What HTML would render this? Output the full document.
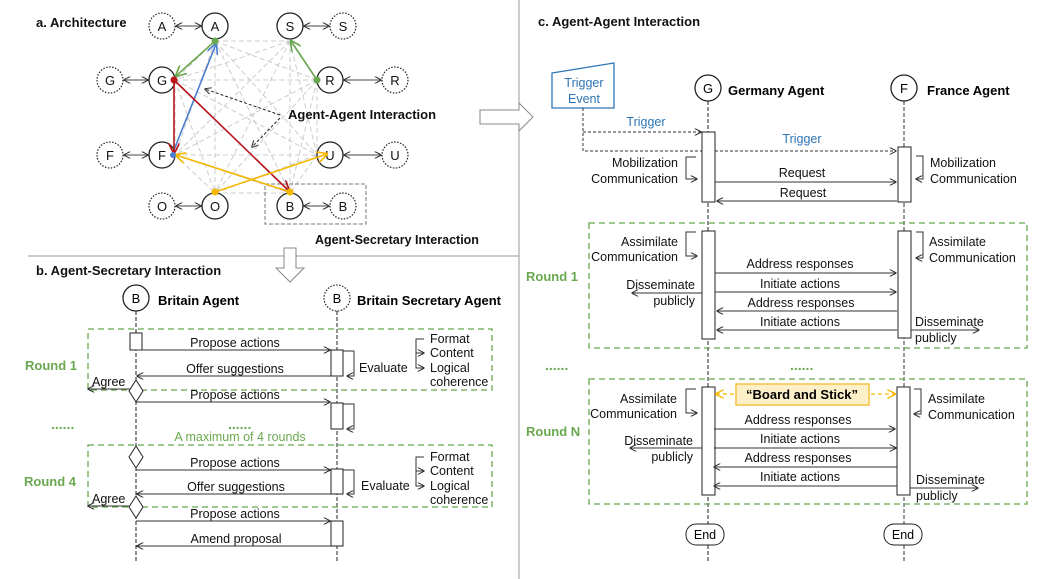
<!DOCTYPE html>
<html><head><meta charset="utf-8"><style>
html,body{margin:0;padding:0;background:#fff;}
svg{display:block;font-family:"Liberation Sans",Arial,sans-serif;}
</style></head><body>
<svg width="1051" height="579" viewBox="0 0 1051 579" xmlns="http://www.w3.org/2000/svg">
<defs>
<marker id="ar" viewBox="0 0 10 10" refX="9" refY="5" markerWidth="7" markerHeight="7" orient="auto-start-reverse"><path d="M0,0 L10,5 L0,10" fill="none" stroke="#333" stroke-width="1.5"/></marker>
<marker id="arG" viewBox="0 0 10 10" refX="9" refY="5" markerWidth="7" markerHeight="7" orient="auto"><path d="M0,0 L10,5 L0,10" fill="none" stroke="#6aa84f" stroke-width="1.5"/></marker>
<marker id="arB" viewBox="0 0 10 10" refX="9" refY="5" markerWidth="7" markerHeight="7" orient="auto"><path d="M0,0 L10,5 L0,10" fill="none" stroke="#4a7fd0" stroke-width="1.5"/></marker>
<marker id="arR" viewBox="0 0 10 10" refX="9" refY="5" markerWidth="7" markerHeight="7" orient="auto"><path d="M0,0 L10,5 L0,10" fill="none" stroke="#b8141a" stroke-width="1.5"/></marker>
<marker id="arY" viewBox="0 0 10 10" refX="9" refY="5" markerWidth="7" markerHeight="7" orient="auto"><path d="M0,0 L10,5 L0,10" fill="none" stroke="#f5b800" stroke-width="1.5"/></marker>
</defs>

<!-- dividers -->
<line x1="519" y1="0" x2="519" y2="579" stroke="#999" stroke-width="1"/>
<line x1="28" y1="256" x2="519" y2="256" stroke="#999" stroke-width="1"/>
<path d="M284,248 H296 V268 H304 L290,282 L276,268 H284 Z" fill="#fff" stroke="#888"/>
<path d="M480,110 H519 V103 L533,117 L519,131 V124 H480 Z" fill="#fff" stroke="#888"/>

<!-- a. Architecture -->
<text x="36" y="27" font-size="13" font-weight="bold" fill="#111">a. Architecture</text>
<g stroke="#ccc" stroke-width="1" stroke-dasharray="5,3">
<line x1="215" y1="41" x2="290" y2="41"/><line x1="215" y1="41" x2="175" y2="80"/><line x1="215" y1="41" x2="317" y2="80"/><line x1="215" y1="41" x2="175" y2="155"/><line x1="215" y1="41" x2="317" y2="155"/><line x1="215" y1="41" x2="215" y2="193"/><line x1="215" y1="41" x2="290" y2="193"/>
<line x1="290" y1="41" x2="175" y2="80"/><line x1="290" y1="41" x2="317" y2="80"/><line x1="290" y1="41" x2="175" y2="155"/><line x1="290" y1="41" x2="317" y2="155"/><line x1="290" y1="41" x2="215" y2="193"/><line x1="290" y1="41" x2="290" y2="193"/>
<line x1="175" y1="80" x2="317" y2="80"/><line x1="175" y1="80" x2="175" y2="155"/><line x1="175" y1="80" x2="317" y2="155"/><line x1="175" y1="80" x2="215" y2="193"/><line x1="175" y1="80" x2="290" y2="193"/>
<line x1="317" y1="80" x2="175" y2="155"/><line x1="317" y1="80" x2="317" y2="155"/><line x1="317" y1="80" x2="215" y2="193"/><line x1="317" y1="80" x2="290" y2="193"/>
<line x1="175" y1="155" x2="317" y2="155"/><line x1="175" y1="155" x2="215" y2="193"/><line x1="175" y1="155" x2="290" y2="193"/>
<line x1="317" y1="155" x2="215" y2="193"/><line x1="317" y1="155" x2="290" y2="193"/><line x1="215" y1="193" x2="290" y2="193"/>
</g>
<rect x="265" y="184" width="101" height="40" fill="none" stroke="#777" stroke-dasharray="4,2"/>
<g font-size="13" text-anchor="middle" fill="#111">
<g fill="#fff" stroke="#222" stroke-width="1.3">
<circle cx="215" cy="26" r="13"/><circle cx="290" cy="26" r="13"/><circle cx="162" cy="80" r="13"/><circle cx="330" cy="80" r="13"/>
<circle cx="162" cy="155" r="13"/><circle cx="330" cy="155" r="13"/><circle cx="215" cy="206" r="13"/><circle cx="290" cy="206" r="13"/>
</g>
<g fill="#fff" stroke="#222" stroke-width="1.2" stroke-dasharray="1.5,1.5">
<circle cx="162" cy="26" r="13"/><circle cx="343" cy="26" r="13"/><circle cx="110" cy="80" r="13"/><circle cx="395" cy="80" r="13"/>
<circle cx="110" cy="155" r="13"/><circle cx="395" cy="155" r="13"/><circle cx="162" cy="206" r="13"/><circle cx="343" cy="206" r="13"/>
</g>
<text x="215" y="31">A</text><text x="162" y="31">A</text><text x="290" y="31">S</text><text x="343" y="31">S</text>
<text x="162" y="85">G</text><text x="110" y="85">G</text><text x="330" y="85">R</text><text x="395" y="85">R</text>
<text x="162" y="160">F</text><text x="110" y="160">F</text><text x="330" y="160">U</text><text x="395" y="160">U</text>
<text x="215" y="211">O</text><text x="162" y="211">O</text><text x="290" y="211">B</text><text x="343" y="211">B</text>
</g>
<g stroke="#444" stroke-width="1" marker-start="url(#ar)" marker-end="url(#ar)">
<line x1="176" y1="26" x2="201" y2="26"/><line x1="304" y1="26" x2="329" y2="26"/>
<line x1="124" y1="80" x2="148" y2="80"/><line x1="344" y1="80" x2="381" y2="80"/>
<line x1="124" y1="155" x2="148" y2="155"/><line x1="344" y1="155" x2="381" y2="155"/>
<line x1="176" y1="206" x2="201" y2="206"/><line x1="304" y1="206" x2="329" y2="206"/>
</g>
<g stroke-width="1.6" fill="none">
<line x1="215" y1="41" x2="176" y2="76" stroke="#6aa84f" marker-end="url(#arG)"/>
<line x1="317" y1="80" x2="291" y2="41" stroke="#6aa84f" marker-end="url(#arG)"/>
<line x1="172" y1="155" x2="216" y2="44" stroke="#4a7fd0" marker-end="url(#arB)"/>
<line x1="174" y1="80" x2="174" y2="153" stroke="#b8141a" marker-end="url(#arR)"/>
<line x1="174" y1="80" x2="289" y2="191" stroke="#b8141a" marker-end="url(#arR)"/>
<line x1="215" y1="192" x2="327" y2="154" stroke="#f5b800" marker-end="url(#arY)"/>
<line x1="290" y1="192" x2="176" y2="155" stroke="#f5b800" marker-end="url(#arY)"/>
</g>
<circle cx="215" cy="41" r="3.5" fill="#6aa84f"/><circle cx="317" cy="80" r="3.5" fill="#6aa84f"/>
<circle cx="174" cy="80" r="3.5" fill="#b8141a"/><circle cx="173" cy="155" r="3" fill="#4a7fd0"/>
<circle cx="215" cy="192" r="3.5" fill="#f5b800"/><circle cx="290" cy="192" r="3.5" fill="#f5b800"/>
<g stroke="#222" stroke-width="1" stroke-dasharray="3,2" marker-end="url(#ar)"><line x1="280" y1="115" x2="205" y2="89"/><line x1="280" y1="118" x2="252" y2="147"/></g>
<text x="288" y="119" font-size="13" font-weight="bold" fill="#111">Agent-Agent Interaction</text>
<text x="315" y="244" font-size="12.5" font-weight="bold" fill="#111">Agent-Secretary Interaction</text>

<!-- b. Agent-Secretary -->
<text x="36" y="275" font-size="13" font-weight="bold" fill="#111">b. Agent-Secretary Interaction</text>
<line x1="136" y1="311" x2="136" y2="563" stroke="#222" stroke-dasharray="4,2"/>
<line x1="337" y1="311" x2="337" y2="563" stroke="#222" stroke-dasharray="4,2"/>
<circle cx="136" cy="298" r="13" fill="#fff" stroke="#222" stroke-width="1.3"/>
<circle cx="337" cy="298" r="13" fill="#fff" stroke="#222" stroke-width="1.2" stroke-dasharray="1.5,1.5"/>
<text x="136" y="303" font-size="13" text-anchor="middle">B</text><text x="337" y="303" font-size="13" text-anchor="middle">B</text>
<text x="158" y="305" font-size="13" font-weight="bold">Britain Agent</text>
<text x="357" y="305" font-size="13" font-weight="bold">Britain Secretary Agent</text>
<g fill="none" stroke="#6aa84f" stroke-width="1.3" stroke-dasharray="6,4">
<rect x="88" y="329" width="404" height="61"/><rect x="88" y="445" width="404" height="62"/>
</g>
<g font-size="13" font-weight="bold" fill="#6aa84f"><text x="25" y="370">Round 1</text><text x="24" y="486">Round 4</text></g>
<text x="51" y="429" font-size="14" font-weight="bold" fill="#6aa84f">......</text>
<text x="228" y="429" font-size="14" font-weight="bold" fill="#6aa84f">......</text>
<text x="240" y="441" font-size="12.5" fill="#6aa84f" text-anchor="middle">A maximum of 4 rounds</text>
<g fill="#fff" stroke="#222">
<rect x="130" y="333" width="12" height="17"/>
<rect x="331" y="350" width="12" height="26"/><rect x="331" y="403" width="12" height="26"/>
<rect x="331" y="469" width="12" height="25"/><rect x="331" y="521" width="12" height="25"/>
<path d="M136,380 L143,391 L136,402 L129,391 Z"/><path d="M136,446 L143,457 L136,468 L129,457 Z"/><path d="M136,496 L143,507 L136,518 L129,507 Z"/>
</g>
<g stroke="#333" stroke-width="1" fill="none" marker-end="url(#ar)">
<line x1="136" y1="350" x2="330" y2="350"/><line x1="331" y1="376" x2="137" y2="376"/>
<line x1="130" y1="389" x2="88" y2="389"/><line x1="136" y1="402" x2="330" y2="402"/>
<line x1="136" y1="470" x2="330" y2="470"/><line x1="331" y1="494" x2="137" y2="494"/>
<line x1="130" y1="506" x2="88" y2="506"/><line x1="136" y1="521" x2="330" y2="521"/>
<line x1="331" y1="546" x2="137" y2="546"/>
<path d="M343,351 H354 V376 H347"/><path d="M343,404 H354 V429 H347"/><path d="M343,470 H354 V494 H347"/>
<path d="M424,339 H416 V353 H424"/><path d="M416,353 V368 H424"/>
<path d="M424,457 H416 V471 H424"/><path d="M416,471 V486 H424"/>
</g>
<g font-size="12.5" fill="#111" text-anchor="middle">
<text x="235" y="347">Propose actions</text><text x="235" y="373">Offer suggestions</text><text x="235" y="399">Propose actions</text>
<text x="235" y="467">Propose actions</text><text x="236" y="491">Offer suggestions</text><text x="235" y="518">Propose actions</text>
<text x="236" y="543">Amend proposal</text>
</g>
<g font-size="12.5" fill="#111">
<text x="92" y="386">Agree</text><text x="92" y="503">Agree</text>
<text x="359" y="372">Evaluate</text><text x="361" y="490">Evaluate</text>
<text x="430" y="343">Format</text><text x="430" y="357">Content</text><text x="430" y="372">Logical</text><text x="430" y="386">coherence</text>
<text x="430" y="461">Format</text><text x="430" y="475">Content</text><text x="430" y="490">Logical</text><text x="430" y="504">coherence</text>
</g>

<!-- c. Agent-Agent -->
<text x="538" y="26" font-size="13" font-weight="bold" fill="#111">c. Agent-Agent Interaction</text>
<path d="M552,73 L614,63 L614,108 L552,108 Z" fill="#fff" stroke="#2e75b6" stroke-width="1.3"/>
<text x="584" y="87" font-size="12.5" fill="#2e75b6" text-anchor="middle">Trigger</text>
<text x="584" y="103" font-size="12.5" fill="#2e75b6" text-anchor="middle">Event</text>
<line x1="708" y1="101" x2="708" y2="563" stroke="#222" stroke-dasharray="4,2"/>
<line x1="904" y1="101" x2="904" y2="563" stroke="#333" stroke-dasharray="4,2"/>
<circle cx="708" cy="88" r="13" fill="#fff" stroke="#222" stroke-width="1.3"/>
<circle cx="904" cy="88" r="13" fill="#fff" stroke="#222" stroke-width="1.3"/>
<text x="708" y="93" font-size="13" text-anchor="middle">G</text><text x="904" y="93" font-size="13" text-anchor="middle">F</text>
<text x="728" y="95" font-size="13" font-weight="bold">Germany Agent</text>
<text x="927" y="95" font-size="13" font-weight="bold">France Agent</text>
<g fill="none" stroke="#6aa84f" stroke-width="1.3" stroke-dasharray="6,4">
<rect x="589" y="223" width="438" height="125"/><rect x="589" y="379" width="438" height="125"/>
</g>
<g font-size="13" font-weight="bold" fill="#6aa84f"><text x="526" y="281">Round 1</text><text x="526" y="436">Round N</text></g>
<text x="545" y="370" font-size="14" font-weight="bold" fill="#6aa84f">......</text>
<text x="790" y="370" font-size="14" font-weight="bold" fill="#6aa84f">......</text>
<g stroke="#333" stroke-dasharray="3,2" fill="none"><path d="M583,108 V151 H896" marker-end="url(#ar)"/><path d="M583,132 H701" marker-end="url(#ar)"/></g>
<text x="646" y="126" font-size="12.5" fill="#2e75b6" text-anchor="middle">Trigger</text>
<text x="802" y="143" font-size="12.5" fill="#2e75b6" text-anchor="middle">Trigger</text>
<g fill="#fff" stroke="#222">
<rect x="702" y="132" width="13" height="70"/><rect x="898" y="147" width="13" height="55"/>
<rect x="702" y="231" width="13" height="108"/><rect x="898" y="231" width="13" height="107"/>
<rect x="702" y="387" width="13" height="108"/><rect x="897" y="387" width="13" height="108"/>
<rect x="686" y="524" width="38" height="21" rx="10"/><rect x="884" y="524" width="38" height="21" rx="10"/>
</g>
<text x="705" y="539" font-size="12.5" text-anchor="middle">End</text><text x="903" y="539" font-size="12.5" text-anchor="middle">End</text>
<rect x="736" y="384" width="133" height="21" fill="#fdf0c8" stroke="#f5c242" stroke-width="1.5"/>
<text x="802" y="399" font-size="13" font-weight="bold" text-anchor="middle">“Board and Stick”</text>
<g stroke="#f5b800" stroke-width="1.3" stroke-dasharray="4,3" marker-end="url(#arY)"><line x1="734" y1="394" x2="716" y2="394"/><line x1="871" y1="394" x2="895" y2="394"/></g>
<g stroke="#333" stroke-width="1" fill="none" marker-end="url(#ar)">
<line x1="715" y1="182" x2="896" y2="182"/><line x1="897" y1="201" x2="717" y2="201"/>
<path d="M696,157 H686 V179 H697"/><path d="M916,156 H923 V179 H916"/>
<path d="M696,232 H686 V256 H697"/><path d="M916,232 H923 V258 H916"/>
<path d="M696,389 H686 V413 H697"/><path d="M914,389 H921 V414 H914"/>
<line x1="715" y1="273" x2="896" y2="273"/><line x1="715" y1="292" x2="896" y2="292"/>
<line x1="897" y1="311" x2="717" y2="311"/><line x1="897" y1="330" x2="717" y2="330"/>
<line x1="702" y1="293" x2="632" y2="293"/><line x1="911" y1="330" x2="979" y2="330"/>
<line x1="714" y1="429" x2="895" y2="429"/><line x1="714" y1="448" x2="896" y2="448"/>
<line x1="897" y1="467" x2="714" y2="467"/><line x1="897" y1="486" x2="714" y2="486"/>
<line x1="702" y1="448" x2="630" y2="448"/><line x1="910" y1="488" x2="978" y2="488"/>
</g>
<g font-size="12.5" fill="#111" text-anchor="middle">
<text x="802" y="177">Request</text><text x="803" y="197">Request</text>
<text x="800" y="268">Address responses</text><text x="800" y="288">Initiate actions</text>
<text x="801" y="307">Address responses</text><text x="800" y="326">Initiate actions</text>
<text x="798" y="424">Address responses</text><text x="800" y="443">Initiate actions</text>
<text x="798" y="462">Address responses</text><text x="800" y="481">Initiate actions</text>
</g>
<g font-size="12.5" fill="#111" text-anchor="end">
<text x="678" y="167">Mobilization</text><text x="678" y="183">Communication</text>
<text x="678" y="246">Assimilate</text><text x="678" y="261">Communication</text>
<text x="695" y="289">Disseminate</text><text x="695" y="305">publicly</text>
<text x="677" y="403">Assimilate</text><text x="677" y="418">Communication</text>
<text x="693" y="445">Disseminate</text><text x="693" y="461">publicly</text>
</g>
<g font-size="12.5" fill="#111">
<text x="930" y="167">Mobilization</text><text x="930" y="183">Communication</text>
<text x="929" y="246">Assimilate</text><text x="929" y="262">Communication</text>
<text x="915" y="326">Disseminate</text><text x="915" y="342">publicly</text>
<text x="928" y="403">Assimilate</text><text x="928" y="419">Communication</text>
<text x="916" y="484">Disseminate</text><text x="916" y="500">publicly</text>
</g>
</svg>
</body></html>
